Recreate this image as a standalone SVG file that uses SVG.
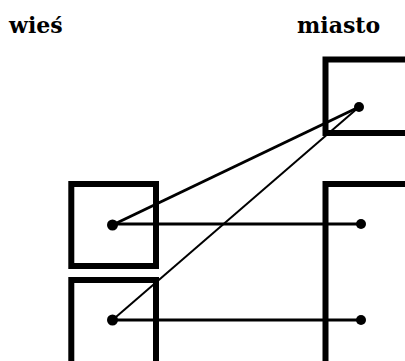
<svg xmlns="http://www.w3.org/2000/svg" width="405" height="361" viewBox="0 0 405 361">
<style>
.box{fill:none;stroke:#000;stroke-width:6}
.lbl{font-family:"DejaVu Serif",serif;font-weight:bold;font-size:22px;fill:#000}
.ln{stroke:#000;stroke-width:3;fill:none}
.thin{stroke-width:2}
.dot{fill:#000}
</style>
<rect width="405" height="361" fill="#fff"/>
<g id="label-wies"><text class="lbl" x="9" y="33">wieś</text></g>
<g id="label-miasto"><text class="lbl" x="297" y="33">miasto</text></g>
<g id="miasto-1"><rect class="box" x="325.5" y="59.5" width="100" height="73.5"/><circle class="dot" cx="359" cy="107" r="5"/></g>
<g id="miasto-2"><rect class="box" x="325.5" y="184" width="100" height="200"/><circle class="dot" cx="361" cy="224" r="5"/><circle class="dot" cx="361" cy="320" r="5"/></g>
<g id="wies-1"><rect class="box" x="71.3" y="184" width="84.7" height="82"/><circle class="dot" cx="112.5" cy="225" r="5.5"/></g>
<g id="wies-2"><rect class="box" x="71.3" y="280" width="84.7" height="120"/><circle class="dot" cx="112.5" cy="320" r="5.5"/></g>
<g id="connectors">
<line class="ln" x1="112.5" y1="225" x2="359" y2="107"/>
<line class="ln thin" x1="112.5" y1="320" x2="359" y2="107"/>
<line class="ln" x1="112.5" y1="224" x2="361" y2="224"/>
<line class="ln" x1="112.5" y1="320" x2="361" y2="320"/>
</g>
</svg>
